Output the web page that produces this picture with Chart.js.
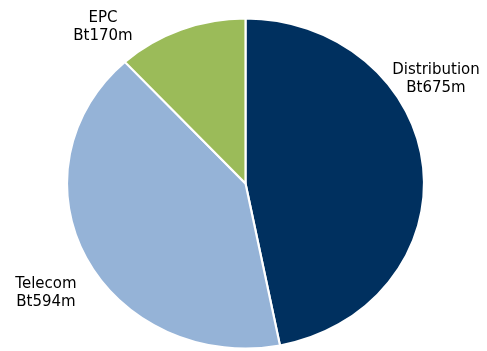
<!DOCTYPE html>
<html>
<head>
<meta charset="utf-8">
<script src="https://cdn.jsdelivr.net/npm/chart.js@4"></script>
<style>
html,body{margin:0;padding:0;background:#fff;}
#wrap{position:relative;width:487px;height:351px;}
</style>
</head>
<body>
<div id="wrap"><canvas id="c" width="487" height="351"></canvas></div>
<script>
const categories = ["Distribution", "Telecom", "EPC"];
const values = [675, 594, 170];
const valueLabels = ["Bt675m", "Bt594m", "Bt170m"];
const colors = ["#00305f", "#95b3d7", "#9bbb59"];

// label anchor positions (layout only)
const labelPos = [
  {x: 436, y: 70},
  {x: 46, y: 284},
  {x: 103, y: 18}
];

const SX = 178.5 / 165;

const ellipsePlugin = {
  id: 'ellipse',
  beforeDatasetsDraw(chart) {
    const ctx = chart.ctx;
    const meta = chart.getDatasetMeta(0);
    const cx = meta.data[0].x;
    ctx.save();
    ctx.translate(cx, 0);
    ctx.scale(SX, 1);
    ctx.translate(-cx, 0);
  },
  afterDatasetsDraw(chart) {
    chart.ctx.restore();
  }
};

const labelPlugin = {
  id: 'labels',
  afterDraw(chart) {
    const ctx = chart.ctx;
    ctx.save();
    ctx.font = '15px "DejaVu Sans", sans-serif';
    ctx.fillStyle = '#000000';
    ctx.textAlign = 'center';
    ctx.textBaseline = 'middle';
    categories.forEach((c, i) => {
      const p = labelPos[i];
      ctx.fillText(c, p.x, p.y);
      ctx.fillText(valueLabels[i], p.x, p.y + 18);
    });
    ctx.restore();
  }
};

new Chart(document.getElementById('c'), {
  type: 'pie',
  data: {
    labels: categories,
    datasets: [{
      data: values,
      backgroundColor: colors,
      borderColor: '#ffffff',
      borderWidth: 2,
      radius: 165
    }]
  },
  options: {
    responsive: false,
    animation: false,
    events: [],
    layout: {padding: {left: 4, right: 0, top: 16, bottom: 0}},
    plugins: {legend: {display: false}, tooltip: {enabled: false}}
  },
  plugins: [ellipsePlugin, labelPlugin]
});
</script>
</body>
</html>
